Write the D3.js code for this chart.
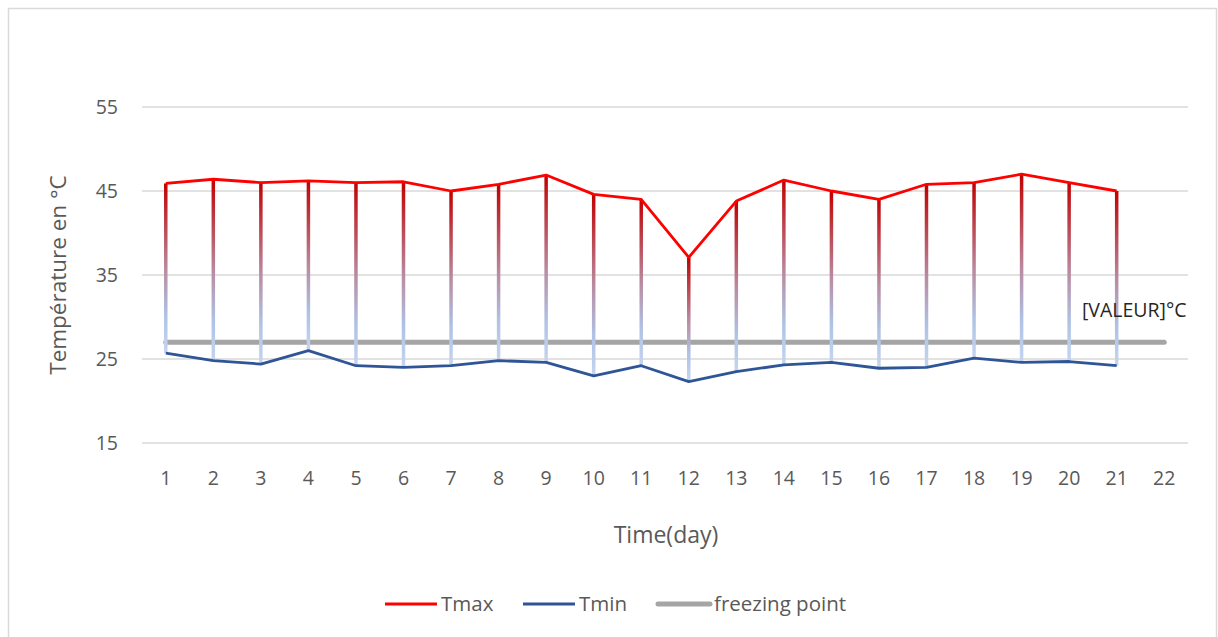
<!DOCTYPE html>
<html>
<head>
<meta charset="utf-8">
<script src="https://cdn.jsdelivr.net/npm/d3@7"></script>
<style>
  html, body { margin: 0; padding: 0; background: #fff; }
  svg { display: block; font-family: "Open Sans", "Noto Sans", sans-serif; }
</style>
</head>
<body>
<svg id="chart" width="1218" height="637"></svg>
<script>
// Daily temperatures (°C)
const days = d3.range(1, 23).map(String);
const tmax = [45.9, 46.4, 46.0, 46.2, 46.0, 46.1, 45.0, 45.8, 46.9, 44.6, 44.0,
              37.1, 43.8, 46.3, 45.0, 44.0, 45.8, 46.0, 47.0, 46.0, 45.0];
const tmin = [25.7, 24.8, 24.4, 26.0, 24.2, 24.0, 24.2, 24.8, 24.6, 23.0, 24.2,
              22.3, 23.5, 24.3, 24.6, 23.9, 24.0, 25.1, 24.6, 24.7, 24.2];
const freezing = days.map(() => 27);
const yTicks = [15, 25, 35, 45, 55];
const seriesNames = ["Tmax", "Tmin", "freezing point"];

const svg = d3.select("#chart");
const plot = { left: 142, right: 1188, top: 65, bottom: 443 };

// Chart area frame
svg.append("rect")
  .attr("x", 8.5).attr("y", 8.5)
  .attr("width", 1208).attr("height", 640)
  .attr("fill", "#fff").attr("stroke", "#d9d9d9").attr("stroke-width", 1.5);

const x = d3.scaleBand().domain(days).range([plot.left, plot.right]);
const y = d3.scaleLinear().domain([15, 60]).range([plot.bottom, plot.bottom - 45 * 8.4]);
const cx = d => x(d) + x.bandwidth() / 2;

// Gridlines
svg.append("g")
  .selectAll("line").data(yTicks).join("line")
  .attr("x1", plot.left).attr("x2", plot.right)
  .attr("y1", d => y(d)).attr("y2", d => y(d))
  .attr("stroke", "#d9d9d9").attr("stroke-width", 1.5);

// Y axis labels
const yAxis = svg.append("g")
  .attr("transform", `translate(${plot.left - 24},0)`)
  .call(d3.axisLeft(y).tickValues(yTicks).tickSize(0).tickPadding(0));
yAxis.select(".domain").remove();
yAxis.selectAll("text")
  .attr("fill", "#595959").attr("font-size", 19.5)
  .attr("font-family", "Open Sans, sans-serif");

// X axis labels
const xAxis = svg.append("g")
  .attr("transform", `translate(0,${plot.bottom + 28})`)
  .call(d3.axisBottom(x).tickSize(0).tickPadding(0));
xAxis.select(".domain").remove();
xAxis.selectAll("text")
  .attr("fill", "#595959").attr("font-size", 19.5)
  .attr("font-family", "Open Sans, sans-serif");

// Axis titles
svg.append("text")
  .attr("x", 666).attr("y", 543)
  .attr("text-anchor", "middle").attr("fill", "#595959").attr("font-size", 23)
  .text("Time(day)");
svg.append("text")
  .attr("transform", `translate(66,${(y(15) + y(55)) / 2}) rotate(-90)`)
  .attr("text-anchor", "middle").attr("fill", "#595959").attr("font-size", 22.5)
  .text("Température en °C");

// Gradient for the high-low lines
const defs = svg.append("defs");
const grad = defs.append("linearGradient")
  .attr("id", "hilo").attr("x1", 0).attr("y1", 0).attr("x2", 0).attr("y2", 1);
grad.append("stop").attr("offset", "0%").attr("stop-color", "#c00000");
grad.append("stop").attr("offset", "50%").attr("stop-color", "#b98aa0");
grad.append("stop").attr("offset", "78%").attr("stop-color", "#afc3e6");
grad.append("stop").attr("offset", "100%").attr("stop-color", "#c6d5ef");

// Freezing point line
svg.append("path")
  .datum(freezing)
  .attr("d", d3.line().x((d, i) => cx(days[i])).y(d => y(d)))
  .attr("fill", "none").attr("stroke", "#a5a5a5").attr("stroke-width", 5)
  .attr("stroke-linecap", "round");

// High-low lines
svg.append("g")
  .selectAll("rect").data(tmax).join("rect")
  .attr("x", (d, i) => cx(days[i]) - 1.75)
  .attr("width", 3.5)
  .attr("y", d => y(d))
  .attr("height", (d, i) => y(tmin[i]) - y(d))
  .attr("fill", "url(#hilo)");

// Tmax / Tmin lines
const line = d3.line().x((d, i) => cx(days[i])).y(d => y(d));
svg.append("path").datum(tmin).attr("d", line)
  .attr("fill", "none").attr("stroke", "#2f5597").attr("stroke-width", 2.8)
  .attr("stroke-linejoin", "round");
svg.append("path").datum(tmax).attr("d", line)
  .attr("fill", "none").attr("stroke", "#ff0000").attr("stroke-width", 2.8)
  .attr("stroke-linejoin", "round");

// Data label on the last freezing point
svg.append("text")
  .attr("x", cx(days[21]) - 30).attr("y", y(freezing[21]) - 25)
  .attr("text-anchor", "middle").attr("fill", "#262626").attr("font-size", 19.5)
  .text("[VALEUR]°C");

// Legend
const legendItems = [
  { name: seriesNames[0], color: "#ff0000", w: 2.8, x: 385 },
  { name: seriesNames[1], color: "#2f5597", w: 2.8, x: 523 },
  { name: seriesNames[2], color: "#a5a5a5", w: 5, x: 658 }
];
const lg = svg.append("g").selectAll("g").data(legendItems).join("g")
  .attr("transform", d => `translate(${d.x},604)`);
lg.append("line").attr("x1", 0).attr("x2", 52)
  .attr("stroke", d => d.color).attr("stroke-width", d => d.w)
  .attr("stroke-linecap", d => d.w > 3 ? "round" : "butt");
lg.append("text").attr("x", 56).attr("dy", "0.35em")
  .attr("fill", "#595959").attr("font-size", 20.5)
  .text(d => d.name);
</script>
</body>
</html>
